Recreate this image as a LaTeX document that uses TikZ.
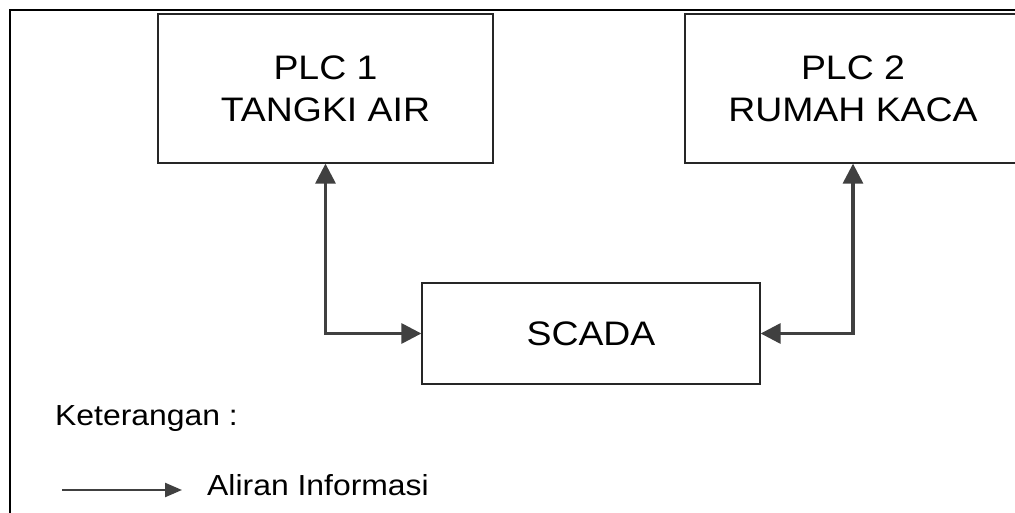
\documentclass[tikz,border=0pt]{standalone}
\usepackage{fontspec}
\setmainfont{Liberation Sans}[FakeStretch=1.1]
\usetikzlibrary{arrows.meta}
\definecolor{arrgray}{HTML}{404040}
\tikzset{
  blockbox/.style={draw=black!85, line width=1.3pt, inner sep=0pt, align=center,
    font=\fontsize{34}{42}\selectfont},
  flow/.style={draw=arrgray, line width=3.2pt,
    {Triangle[length=20pt,width=20pt]}-{Triangle[length=20pt,width=20pt]}},
  legendarrow/.style={draw=arrgray, line width=2.4pt, -{Triangle[length=17pt,width=14pt]}},
  legendtext/.style={inner sep=0pt, font=\fontsize{29}{34}\selectfont},
  frame/.style={draw=black, line width=2.6pt}
}
\begin{document}
\begin{tikzpicture}[x=1pt,y=1pt]
\clip (0,0) rectangle (1015,-513);
\fill[white] (0,0) rectangle (1015,-513);
% outer frame (top and left sides visible)
\draw[frame] (1030,-10) -- (10,-10) -- (10,-530);
% blocks
\node[blockbox, minimum width=335pt, minimum height=149pt] (plc1) at (325.5,-88.5) {PLC 1\\TANGKI AIR};
\node[blockbox, minimum width=336pt, minimum height=149pt] (plc2) at (853,-88.5) {PLC 2\\RUMAH KACA};
\node[blockbox, minimum width=338pt, minimum height=101pt] (scada) at (591,-333.5) {SCADA};
% connectors
\draw[flow] (plc1.south) |- (scada.west);
\draw[flow] (plc2.south) |- (scada.east);
% legend
\node[legendtext, anchor=base west] (ket) at (55,-425) {Keterangan :};
\coordinate (la) at (62,-490);
\coordinate (lb) at (182,-490);
\draw[legendarrow] (la) -- (lb);
\node[legendtext, anchor=base west] (ali) at (207,-495) {Aliran Informasi};
\end{tikzpicture}
\end{document}
